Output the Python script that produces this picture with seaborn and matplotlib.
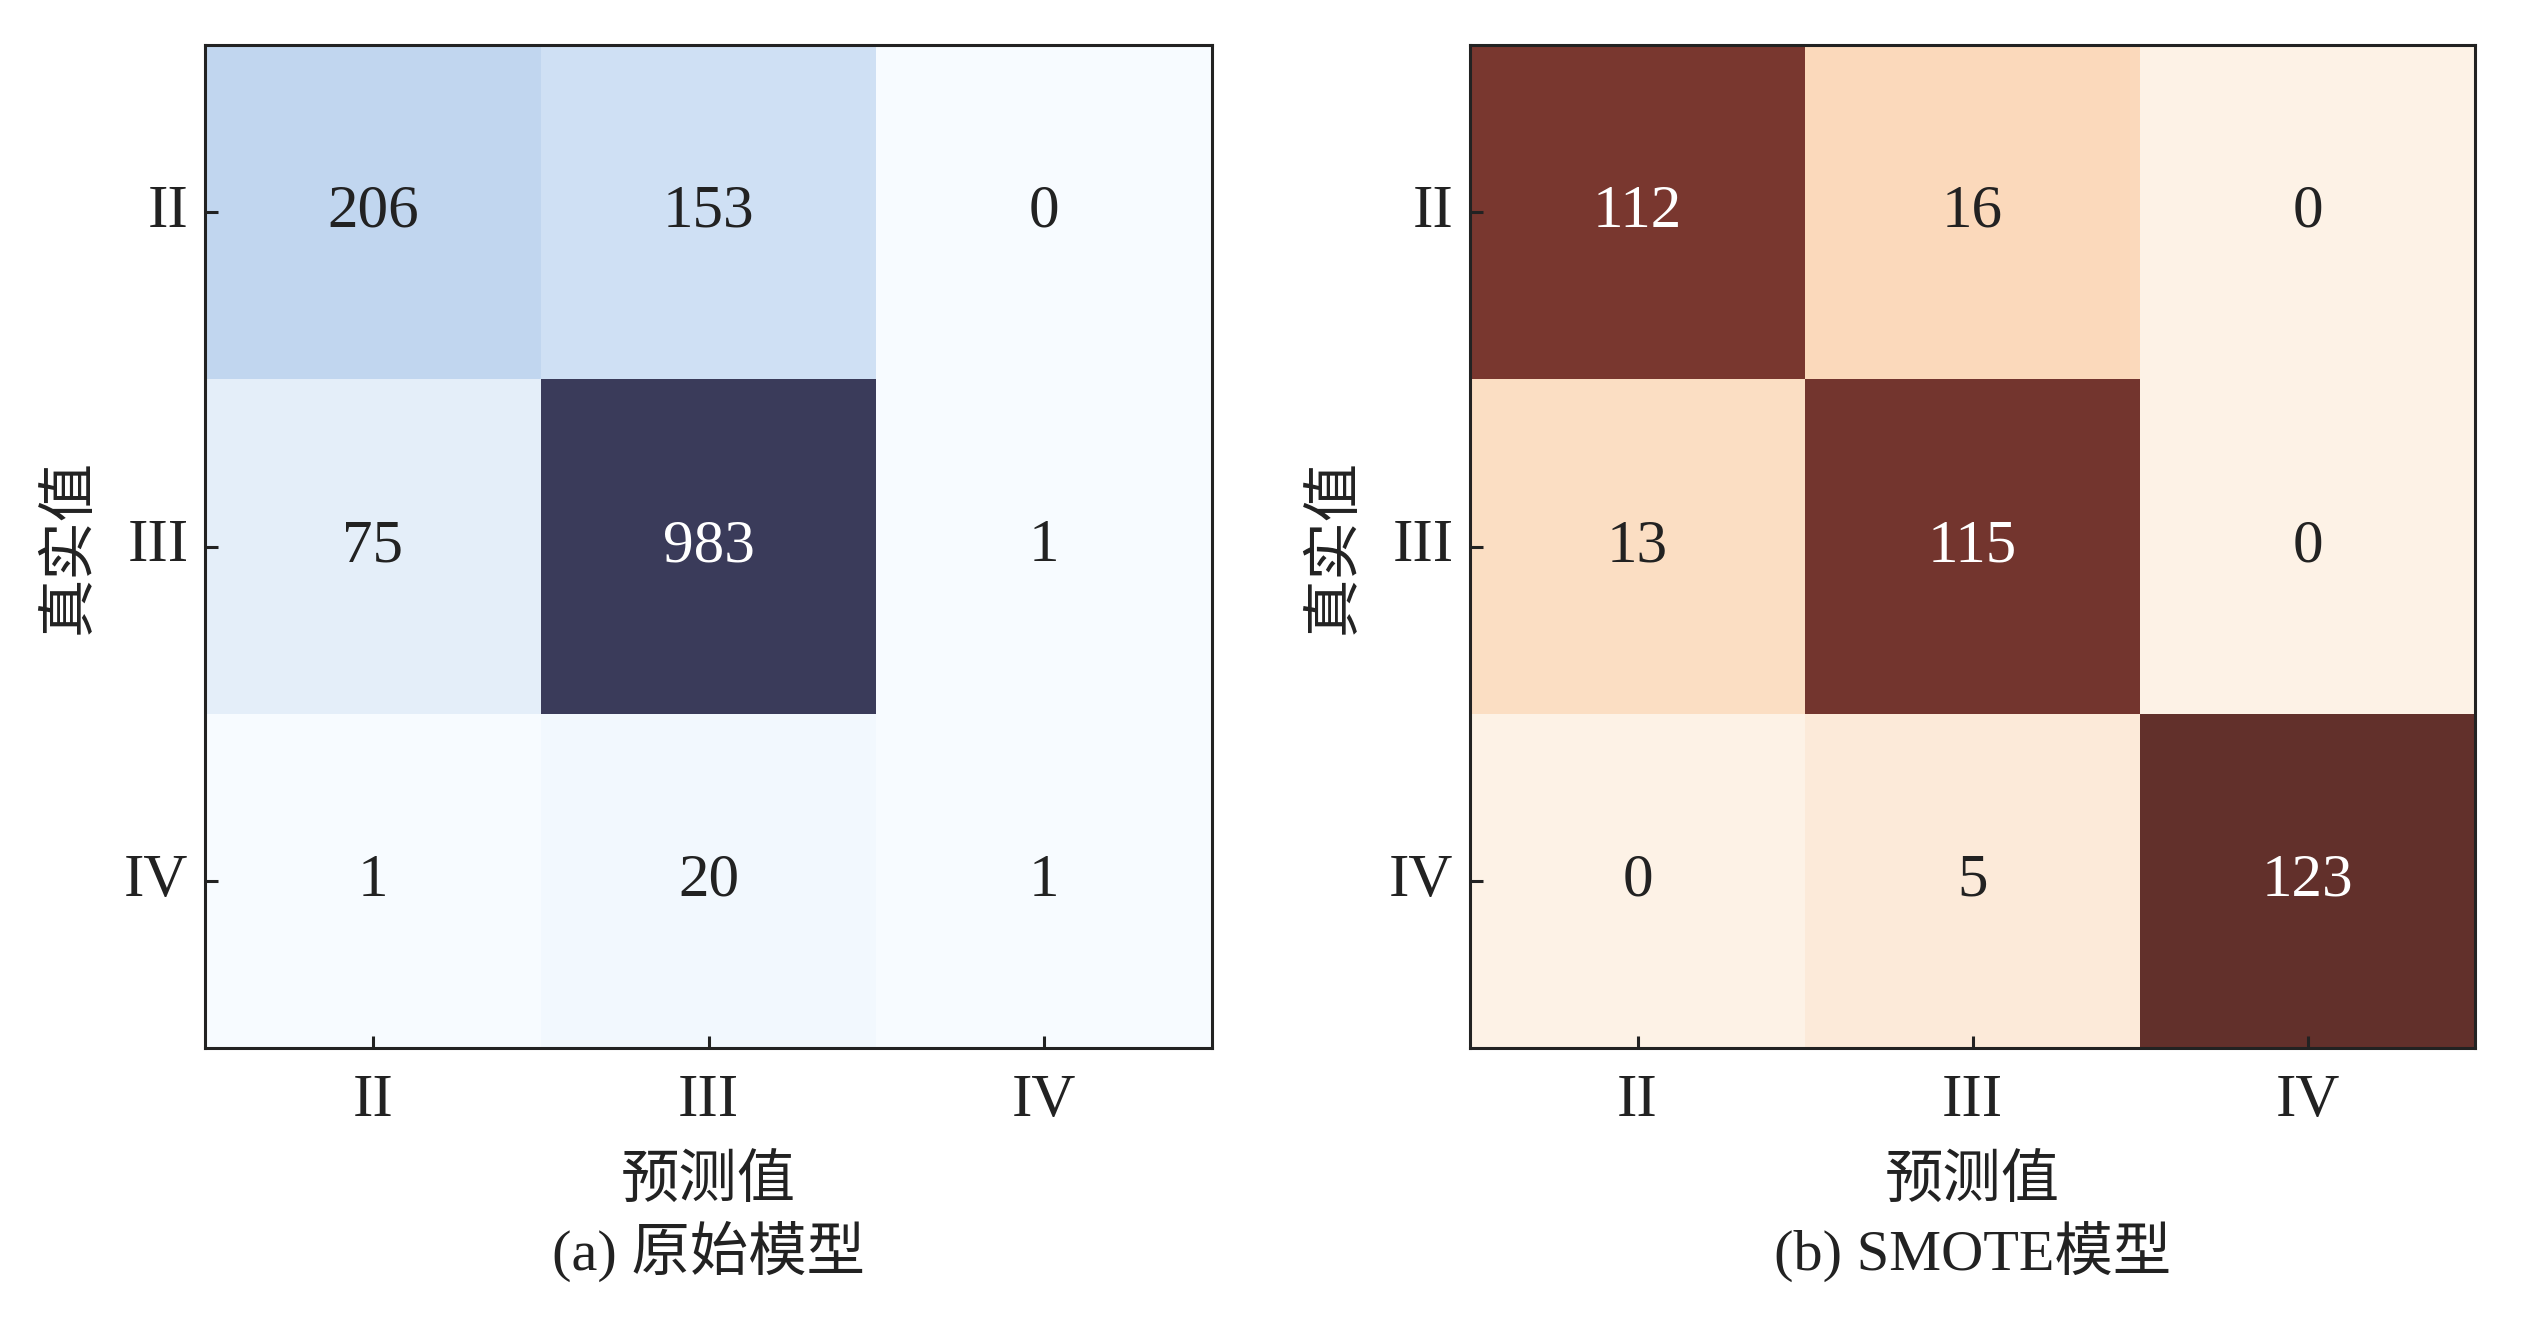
import numpy as np
import pandas as pd
import matplotlib
matplotlib.use('Agg')
import matplotlib.pyplot as plt
import seaborn as sns

# class labels
classes = ['II', 'III', 'IV']

# confusion matrices (rows = true, cols = predicted)
cm_orig = [[206, 153, 0],
           [75, 983, 1],
           [1, 20, 1]]
cm_smote = [[112, 16, 0],
            [13, 115, 0],
            [0, 5, 123]]

xlabel = '预测值'
ylabel = '真实值'
titles = ['(a) 原始模型', '(b) SMOTE模型']

sns.set_style('white')
plt.rcParams['font.family'] = ['Liberation Serif', 'Noto Sans CJK SC']
plt.rcParams['axes.unicode_minus'] = False

# colour maps
cmap_blue = sns.blend_palette(['#f7fbff', '#a0c0e6', '#6d7ea6', '#3a3b5a'], as_cmap=True)
cmap_brown = sns.blend_palette(['#fdf2e6', '#f7b277', '#bb4a3a', '#62302b'], as_cmap=True)

fig = plt.figure(figsize=(12.675, 6.655), dpi=200)
ax1 = fig.add_axes([0.0809, 0.2126, 0.3972, 0.7536])
ax2 = fig.add_axes([0.5799, 0.2126, 0.3965, 0.7536])

for ax, cm, cmap, title in [(ax1, cm_orig, cmap_blue, titles[0]),
                            (ax2, cm_smote, cmap_brown, titles[1])]:
    df = pd.DataFrame(cm, index=classes, columns=classes)
    vmax = np.max(cm)
    sns.heatmap(df, ax=ax, cmap=cmap, vmin=0, vmax=vmax, cbar=False,
                annot=False, square=False)
    # annotations (white on dark cells)
    for i in range(len(classes)):
        for j in range(len(classes)):
            v = cm[i][j]
            col = 'white' if v > vmax * 0.5 else '#222222'
            ax.text(j + 0.5, i + 0.5, str(v), ha='center', va='center',
                    fontsize=22, color=col)
    ax.set_axisbelow(False)  # keep inward ticks above the mesh
    for s in ax.spines.values():
        s.set_visible(True)
        s.set_color('#222222')
        s.set_linewidth(1.1)
    ax.tick_params(direction='in', length=4.5, width=1.1, color='#222222',
                   labelsize=22, labelcolor='#222222', bottom=True, left=True)
    ax.tick_params(axis='x', pad=9)
    ax.tick_params(axis='y', pad=6)
    ax.set_yticklabels(classes, rotation=0)
    ax.set_xticklabels(classes, rotation=0)
    ax.set_xlabel(xlabel, fontsize=21, color='#222222', labelpad=10)
    ax.set_ylabel(ylabel, fontsize=21, color='#222222', labelpad=10)
    ax.text(0.5, -0.172, title, transform=ax.transAxes, ha='center', va='top',
            fontsize=21, color='#222222')

plt.savefig('out.png', dpi=200)
